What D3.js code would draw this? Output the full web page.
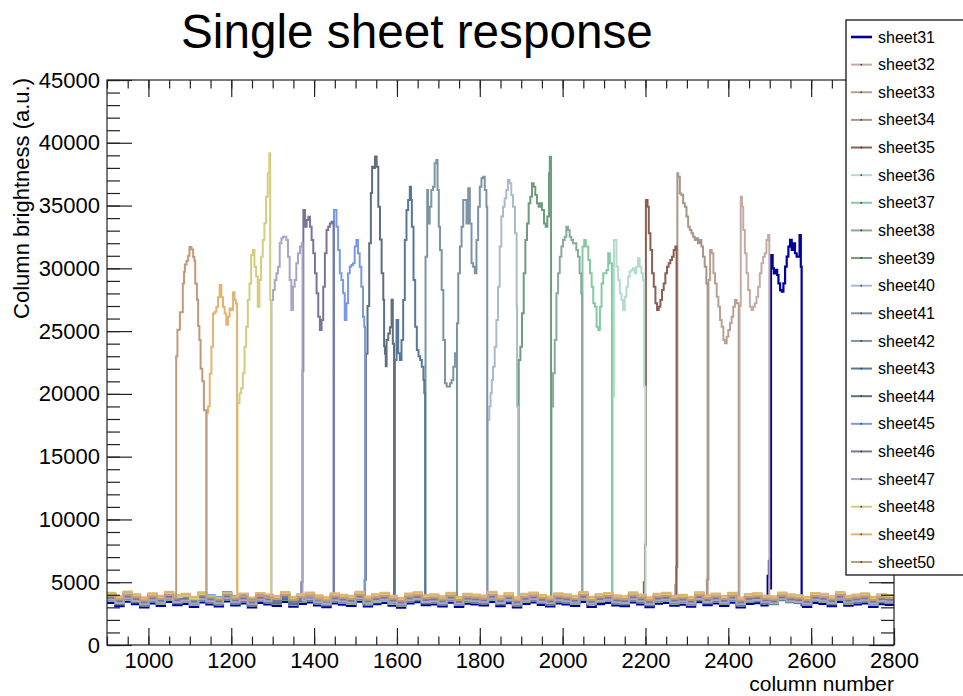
<!DOCTYPE html>
<html>
<head>
<meta charset="utf-8">
<script src="https://cdn.jsdelivr.net/npm/d3@7"></script>
<style>
  body { margin: 0; background: #fff; }
  svg { display: block; font-family: "Liberation Sans", Arial, Helvetica, sans-serif; }
</style>
</head>
<body>
<div id="chart"></div>
<script>
const sheetNames = ["sheet31","sheet32","sheet33","sheet34","sheet35","sheet36","sheet37","sheet38","sheet39","sheet40",
                    "sheet41","sheet42","sheet43","sheet44","sheet45","sheet46","sheet47","sheet48","sheet49","sheet50"];

const sheetColors = ["#00009c","#c4aca4","#b9a095","#a8968a","#8a6050","#b4dccc","#86caa4","#88aa9a","#6e9c7c","#aabccc",
                     "#7c94a6","#7a96a2","#58789a","#5f6f7f","#7a9ae0","#787696","#aaa4c6","#d2ce7e","#e2b474","#c29a7a"];

// flat noise floor of each sheet (a.u.)
const baseLevels = [3200,3850,3600,3500,3750,3400,3350,3650,3500,3900,
                    3550,3800,3450,3400,3950,3600,3450,3850,4000,3750];

// wobble of the noise floor, one value per 20 columns from 900
const floorWobble = [160,-110,260,50,-200,120,-80,240,-30,80,-160,200,40,-120,280,-50,110,-210,150,30,
                     -90,230,-150,70,190,-40,-190,120,10,-80,250,-130,50,160,-70,-230,110,210,-30,40,
                     -120,170,-170,90,30,-50,240,-110,130,-200,80,190,-10,-130,120,40,-80,230,-160,50,
                     150,-40,-110,200,30,-190,90,160,-70,10,-150,210,-30,110,-90,170,-210,70,130,-50,
                     -120,190,40,-30,-170,150,80,-110,230,-70,30,120,-160,50,-10];

// [column, brightness] steps of each sheet's peak, same order as sheetNames
const peakProfiles = [
  [[2495,5500],[2498,6700],[2501,4500],[2503,31060],[2507,30000],[2510,29600],[2514,29870],[2518,29470],[2521,28800],[2525,28270],
   [2529,28140],[2533,28800],[2537,30130],[2541,30930],[2545,31730],[2549,32260],[2553,31460],[2557,31990],[2561,31200],[2565,30930],
   [2569,30930],[2572,32650],[2575,30130]],
  [[2427,27000],[2430,35710],[2433,34910],[2436,33050],[2440,31200],[2444,29600],[2448,28280],[2452,26950],[2456,26680],[2460,26950],
   [2464,27210],[2468,27740],[2472,28540],[2476,29600],[2480,30400],[2484,30930],[2488,31200],[2492,32260],[2496,32650]],
  [[2348,5200],[2352,29070],[2356,31460],[2360,31200],[2364,29600],[2368,28800],[2372,27740],[2376,26950],[2380,25890],[2384,25350],
   [2388,24290],[2392,24030],[2396,24560],[2400,25090],[2404,25620],[2408,26150],[2412,26950],[2416,27480],[2420,27210]],
  [[2272,4800],[2274,6200],[2277,37570],[2279,37300],[2283,35970],[2287,35840],[2291,35180],[2295,34910],[2299,34120],[2303,33320],
   [2307,33050],[2311,32790],[2315,32520],[2319,32260],[2323,32390],[2327,31990],[2331,32260],[2335,31730],[2339,30930],[2343,30130],
   [2347,28800]],
  [[2196,5000],[2199,8000],[2201,35440],[2205,34910],[2208,32790],[2212,31460],[2216,29600],[2220,28540],[2224,27210],[2228,26680],
   [2232,26950],[2236,27480],[2240,28280],[2244,28800],[2248,29600],[2252,30130],[2256,30400],[2260,30670],[2264,30930],[2268,31460],
   [2272,31730]],
  [[2121,19780],[2124,32260],[2128,32260],[2130,30130],[2134,29070],[2138,28010],[2142,27480],[2146,26680],[2150,27740],[2154,28540],
   [2158,29340],[2162,29740],[2166,29870],[2170,30000],[2174,29600],[2178,30130],[2182,30800],[2186,30130],[2190,29600],[2194,29070],
   [2197,20580]],
  [[2048,31730],[2052,32260],[2056,31730],[2062,30670],[2066,29600],[2070,28540],[2074,27210],[2078,26950],[2082,25350],[2086,25090],
   [2090,26950],[2094,28800],[2098,29600],[2102,29600],[2106,29870],[2110,31200],[2114,30400]],
  [[1973,18990],[1977,21640],[1981,24290],[1985,28010],[1989,29600],[1993,30930],[1997,31730],[2001,32260],[2005,32520],[2009,33320],
   [2013,33050],[2017,32520],[2021,32260],[2025,31990],[2029,31990],[2033,31460],[2037,30930],[2041,29600],[2045,27990]],
  [[1894,22700],[1898,23760],[1902,26420],[1906,29600],[1910,32260],[1914,33580],[1918,35180],[1922,35710],[1926,36770],[1930,36500],
   [1934,35840],[1938,35180],[1942,34910],[1946,35180],[1950,34650],[1955,33580],[1959,33320],[1963,34120],[1967,37570],[1969,38890]],
  [[1819,17920],[1823,18990],[1826,20050],[1829,21100],[1832,22170],[1836,23760],[1840,25890],[1844,28540],[1848,31730],[1852,34120],
   [1856,34910],[1860,35580],[1864,36240],[1868,37040],[1872,36770],[1876,35840],[1880,34910],[1885,32790],[1889,27000],[1890,18990]],
  [[1745,25620],[1748,29600],[1752,31730],[1756,33320],[1760,35440],[1764,35440],[1768,33580],[1772,36370],[1776,33580],[1780,30400],
   [1784,30130],[1788,29600],[1792,32260],[1796,34910],[1800,36500],[1804,37170],[1808,37300],[1812,36240],[1816,34910]],
  [[1669,30930],[1673,36240],[1675,33580],[1679,34910],[1683,36240],[1687,36500],[1691,38360],[1695,38630],[1698,36240],[1701,33320],
   [1704,31460],[1708,28280],[1712,24290],[1716,20850],[1720,20580],[1728,20850],[1732,21100],[1736,22170],[1740,23230]],
  [[1595,22700],[1599,25890],[1603,23230],[1607,22700],[1611,24290],[1615,27480],[1619,32260],[1623,34650],[1627,35440],[1631,36500],
   [1634,35440],[1636,33320],[1640,29070],[1644,25350],[1648,23500],[1652,23000],[1656,22700],[1660,22170],[1664,21100],[1666,20050]],
  [[1522,5200],[1525,23200],[1529,27000],[1533,32000],[1537,36000],[1540,38100],[1544,38000],[1547,38900],[1551,38100],[1555,34900],
   [1559,32300],[1563,29600],[1567,27500],[1569,23800],[1571,23200],[1573,22200],[1575,24300],[1579,24800],[1583,25300],[1587,27500],
   [1590,24000]],
  [[1448,34650],[1454,33320],[1458,31460],[1462,29600],[1466,29070],[1470,28010],[1474,25890],[1478,27210],[1482,29600],[1486,30130],
   [1490,30270],[1494,30400],[1498,31730],[1502,32260],[1506,31200],[1510,30130],[1514,28540],[1518,26150],[1521,25350]],
  [[1369,5000],[1372,21800],[1374,34650],[1378,33320],[1382,33850],[1386,34100],[1390,33320],[1394,32260],[1398,31200],[1402,29600],
   [1406,28010],[1410,26150],[1414,25090],[1418,25890],[1422,28540],[1426,31200],[1430,33050],[1434,33320],[1438,33580],[1442,33720]],
  [[1297,27480],[1301,28280],[1305,29070],[1309,29600],[1313,30130],[1317,31990],[1321,32390],[1325,32520],[1329,32520],[1333,32260],
   [1337,30930],[1341,29070],[1345,26680],[1349,28540],[1353,29070],[1357,30400],[1361,31200],[1366,31730],[1370,32000]],
  [[1215,19250],[1220,20050],[1224,20450],[1228,21640],[1232,23760],[1236,25350],[1240,27480],[1244,28800],[1248,31060],[1252,31460],
   [1256,30130],[1260,29340],[1264,26950],[1268,29070],[1272,30930],[1276,32260],[1280,33590],[1284,35710],[1288,37570],[1292,39160],
   [1294,27480]],
  [[1140,18500],[1144,19000],[1148,21600],[1152,23760],[1156,26400],[1160,26550],[1164,26950],[1168,27700],[1172,28670],[1176,27700],
   [1180,26950],[1184,26400],[1188,25500],[1192,26150],[1196,26800],[1200,26680],[1204,28100],[1208,27480],[1211,27200]],
  [[1067,23000],[1070,25100],[1076,26500],[1083,28800],[1086,29700],[1088,30300],[1092,30600],[1096,31000],[1099,31700],[1104,31500],
   [1108,30900],[1111,30600],[1113,28800],[1117,27500],[1120,25400],[1123,24300],[1126,22000],[1130,21000],[1134,18700]]
];

// column where each sheet falls back to its noise floor
const peakEnds = [2577,2499,2425,2350,2275,2200,2119,2047,1972,1893,1818,1745,1668,1593,1523,1447,1372,1296,1214,1140];

const xTicks = [1000,1200,1400,1600,1800,2000,2200,2400,2600,2800];
const yTicks = [0,5000,10000,15000,20000,25000,30000,35000,40000,45000];

const W = 963, H = 696;
const L = 107, R = 894, T = 80, B = 645;

const svg = d3.select("#chart").append("svg").attr("width", W).attr("height", H);

const x = d3.scaleLinear().domain([900, 2800]).range([L, R]);
const y = d3.scaleLinear().domain([0, 45000]).range([B, T]);

svg.append("clipPath").attr("id", "plot")
  .append("rect").attr("x", L).attr("y", T).attr("width", R - L).attr("height", B - T);

function sheetPoints(i) {
  const lvl = baseLevels[i];
  const prof = peakProfiles[i];
  const start = prof[0][0], end = peakEnds[i];
  const pts = [];
  floorWobble.forEach((w, k) => {
    const c = 900 + k * 20;
    if (c < start) pts.push([c, lvl + w]);
  });
  prof.forEach(p => pts.push(p));
  const kEnd = Math.min(Math.floor((end - 900) / 20), floorWobble.length - 1);
  pts.push([end, lvl + floorWobble[kEnd]]);
  floorWobble.forEach((w, k) => {
    const c = 900 + k * 20;
    if (c > end) pts.push([c, lvl + w]);
  });
  pts.push([2800, pts[pts.length - 1][1]]);
  return pts;
}

const line = d3.line().x(d => x(d[0])).y(d => y(d[1])).curve(d3.curveStepAfter);

svg.append("g").attr("clip-path", "url(#plot)")
  .selectAll("path")
  .data(sheetNames)
  .enter().append("path")
  .attr("d", (d, i) => line(sheetPoints(i)))
  .attr("fill", "none")
  .attr("stroke", (d, i) => sheetColors[i])
  .attr("stroke-width", (d, i) => i === 0 ? 2.2 : 2);

// frame and axes
const tickCol = "#222";
const minorX = d3.range(900, 2801, 50);
const minorY = d3.range(0, 45001, 1000);

function styleAxis(g) {
  g.select(".domain").remove();
  g.selectAll("line").attr("stroke", tickCol).attr("stroke-width", 1.2);
  g.selectAll("text").attr("font-size", 22).attr("fill", "#000").attr("font-family", "Liberation Sans, Arial, sans-serif");
}

svg.append("g").attr("transform", `translate(0,${B})`)
  .call(d3.axisBottom(x).tickValues(minorX).tickSize(-8.5).tickFormat("")).call(styleAxis);
svg.append("g").attr("transform", `translate(0,${B})`)
  .call(d3.axisBottom(x).tickValues(xTicks).tickSize(-17).tickPadding(7).tickFormat(d3.format("d"))).call(styleAxis);
svg.append("g").attr("transform", `translate(0,${T})`)
  .call(d3.axisTop(x).tickValues(minorX).tickSize(-8.5).tickFormat("")).call(styleAxis);
svg.append("g").attr("transform", `translate(0,${T})`)
  .call(d3.axisTop(x).tickValues(xTicks).tickSize(-17).tickFormat("")).call(styleAxis);

svg.append("g").attr("transform", `translate(${L},0)`)
  .call(d3.axisLeft(y).tickValues(minorY).tickSize(-13).tickFormat("")).call(styleAxis);
svg.append("g").attr("transform", `translate(${L},0)`)
  .call(d3.axisLeft(y).tickValues(yTicks).tickSize(-25).tickPadding(7).tickFormat(d3.format("d"))).call(styleAxis);
svg.append("g").attr("transform", `translate(${R},0)`)
  .call(d3.axisRight(y).tickValues(minorY).tickSize(-13).tickFormat("")).call(styleAxis);
svg.append("g").attr("transform", `translate(${R},0)`)
  .call(d3.axisRight(y).tickValues(yTicks).tickSize(-25).tickFormat("")).call(styleAxis);

svg.append("rect").attr("x", L).attr("y", T).attr("width", R - L).attr("height", B - T)
  .attr("fill", "none").attr("stroke", tickCol).attr("stroke-width", 1.2);

// titles
svg.append("text").attr("x", 181).attr("y", 48).attr("font-size", 47.7).text("Single sheet response");
svg.append("text").attr("x", R).attr("y", 691).attr("text-anchor", "end").attr("font-size", 21).text("column number");
svg.append("text").attr("transform", `translate(29,${T - 2}) rotate(-90)`)
  .attr("text-anchor", "end").attr("font-size", 22).text("Column brightness (a.u.)");

// legend
const leg = svg.append("g");
leg.append("rect").attr("x", 846).attr("y", 20).attr("width", 122).attr("height", 555)
  .attr("fill", "#fff").attr("stroke", "#000").attr("stroke-width", 1.2);
const item = leg.selectAll("g.item").data(sheetNames).enter().append("g")
  .attr("transform", (d, i) => `translate(0,${37 + i * 27.63})`);
item.append("line").attr("x1", 851).attr("x2", 872)
  .attr("stroke", (d, i) => sheetColors[i]).attr("stroke-width", (d, i) => i === 0 ? 2.6 : 2);
item.filter((d, i) => i > 0).append("rect")
  .attr("x", 860.5).attr("y", -0.75).attr("width", 1.5).attr("height", 1.5).attr("fill", "#333");
item.append("text").attr("x", 878).attr("dy", "0.35em").attr("font-size", 16).text(d => d);
</script>
</body>
</html>
